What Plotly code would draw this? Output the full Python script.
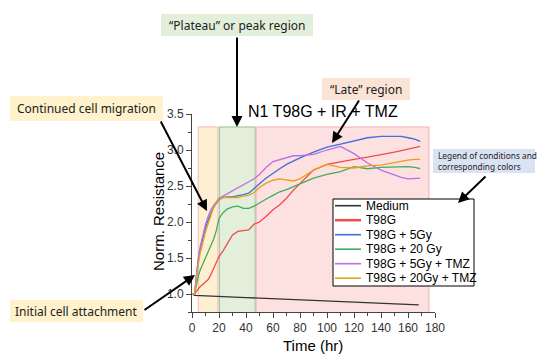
import plotly.graph_objects as go

# ---------------- data ----------------
time_hr = [0, 2, 3, 4, 5, 6, 8, 10, 12, 14, 16, 18, 20, 23, 26, 30, 34, 38, 42, 46,
           50, 55, 60, 65, 70, 75, 80, 90, 100, 110, 120, 130, 140, 150, 155, 160, 165, 169]

t98g = [1.0, 1.0, 1.03, 1.06, 1.08, 1.10, 1.13, 1.16, 1.20, 1.27, 1.36, 1.45, 1.52, 1.60, 1.69, 1.82, 1.87, 1.88, 1.89, 1.97,
        2.00, 2.08, 2.17, 2.24, 2.33, 2.44, 2.53, 2.72, 2.80, 2.84, 2.87, 2.90, 2.93, 2.97, 2.99, 3.01, 3.03, 3.05]
t98g_5gy = [1.0, 1.0, 1.20, 1.40, 1.52, 1.62, 1.78, 1.92, 2.03, 2.12, 2.20, 2.26, 2.31, 2.34, 2.35, 2.35, 2.36, 2.38, 2.40, 2.46,
            2.53, 2.61, 2.68, 2.74, 2.80, 2.85, 2.89, 2.97, 3.04, 3.08, 3.13, 3.17, 3.19, 3.19, 3.19, 3.17, 3.15, 3.12]
t98g_20gy = [1.0, 1.0, 1.10, 1.20, 1.27, 1.33, 1.42, 1.50, 1.58, 1.67, 1.76, 1.88, 2.05, 2.13, 2.18, 2.21, 2.22, 2.19, 2.19, 2.22,
             2.27, 2.32, 2.37, 2.42, 2.45, 2.49, 2.53, 2.61, 2.66, 2.70, 2.77, 2.74, 2.76, 2.77, 2.77, 2.77, 2.76, 2.74]
t98g_5gy_tmz = [1.0, 1.0, 1.22, 1.42, 1.55, 1.65, 1.82, 1.97, 2.08, 2.17, 2.23, 2.28, 2.33, 2.36, 2.39, 2.43, 2.47, 2.52, 2.56, 2.60,
                2.66, 2.76, 2.84, 2.87, 2.90, 2.92, 2.92, 2.94, 3.00, 3.05, 2.95, 2.82, 2.72, 2.65, 2.62, 2.60, 2.60, 2.61]
t98g_20gy_tmz = [1.0, 1.0, 1.15, 1.32, 1.45, 1.56, 1.72, 1.86, 1.98, 2.10, 2.20, 2.27, 2.32, 2.34, 2.34, 2.33, 2.34, 2.36, 2.37, 2.41,
                 2.48, 2.54, 2.58, 2.60, 2.58, 2.57, 2.60, 2.72, 2.80, 2.76, 2.75, 2.78, 2.79, 2.83, 2.85, 2.86, 2.87, 2.87]

medium_time = [0, 2, 40, 80, 120, 168]
medium = [1.0, 0.98, 0.95, 0.92, 0.89, 0.85]

series_names = ["Medium", "T98G", "T98G + 5Gy", "T98G + 20 Gy", "T98G + 5Gy + TMZ", "T98G + 20Gy + TMZ"]
series_colors = ["#333333", "#f24a4a", "#3f6fd8", "#3fae5a", "#b870e8", "#e6a01e"]

# phase regions (hr)
region_start = [4.6, 20.2, 47.5]
region_end = [19.2, 46.8, 175.5]
region_top = 3.32
region_fill = ["#fdf0d2", "#e3efdb", "#fde0e0"]
region_line = ["#f5b8b8", "#93c08a", "#f5b0b0"]

x_ticks = [0, 20, 40, 60, 80, 100, 120, 140, 160, 180]
y_ticks = [1.0, 1.5, 2.0, 2.5, 3.0, 3.5]

# ---------------- figure ----------------
L, R, T, B = 192, 115, 114, 50
W, H = 550, 362
PW, PH = W - L - R, H - T - B


def px(x):
    return (x - L) / PW


def py(y):
    return (H - B - y) / PH


fig = go.Figure()

all_y = [medium, t98g, t98g_5gy, t98g_20gy, t98g_5gy_tmz, t98g_20gy_tmz]
for i, name in enumerate(series_names):
    xs = medium_time if i == 0 else time_hr
    fig.add_trace(go.Scatter(x=xs, y=all_y[i], mode="lines", name=name,
                             line=dict(color=series_colors[i], width=1.3), showlegend=False))

shapes = []
for s, e, f, c in zip(region_start, region_end, region_fill, region_line):
    shapes.append(dict(type="rect", xref="x", yref="y", x0=s, x1=e, y0=0.72, y1=region_top,
                       fillcolor=f, line=dict(color=c, width=1), layer="below"))

# annotation boxes (pixel positions converted to paper)
boxes = [
    ((161, 14, 313, 36), "#e2efda", "\u201cPlateau\u201d or peak region"),
    ((322, 78, 410, 100), "#fbe3d6", "\u201cLate\u201d region"),
    ((10, 96, 163, 121), "#fff2cc", "Continued cell migration"),
    ((10, 300, 143, 322), "#fff2cc", "Initial cell attachment"),
]
annotations = []
for (x0, y0, x1, y1), col, txt in boxes:
    shapes.append(dict(type="rect", xref="paper", yref="paper", x0=px(x0), x1=px(x1),
                       y0=py(y1), y1=py(y0), fillcolor=col, line=dict(width=0), layer="above"))
    annotations.append(dict(xref="paper", yref="paper", x=px((x0 + x1) / 2), y=py((y0 + y1) / 2),
                            text=txt, showarrow=False, xanchor="center", yanchor="middle",
                            font=dict(family="Noto Sans", size=12, color="#222222")))

# legend note box
shapes.append(dict(type="rect", xref="paper", yref="paper", x0=px(433), x1=px(535),
                   y0=py(173), y1=py(149), fillcolor="#dae3f3", line=dict(width=0), layer="above"))
annotations.append(dict(xref="paper", yref="paper", x=px(436), y=py(161),
                        text="Legend of conditions and<br>corresponding colors", showarrow=False,
                        xanchor="left", yanchor="middle", align="left",
                        font=dict(family="Noto Sans", size=8.3, color="#222222")))

# arrows: (tail), (tip)
arrows = [((237, 36), (237, 127)), ((360, 99), (332, 143)), ((160, 120), (207, 211)),
          ((143, 311), (195, 275)), ((487, 175), (458, 203))]
for (tx, ty), (hx, hy) in arrows:
    annotations.append(dict(xref="paper", yref="paper", x=px(hx), y=py(hy), ax=tx - hx, ay=ty - hy,
                            text="", showarrow=True, arrowhead=2, arrowsize=1.1, arrowwidth=2,
                            arrowcolor="black", standoff=0, startstandoff=0))

# legend (drawn manually for compact row spacing)
leg_x0, leg_x1, leg_y0, leg_y1 = 333, 474, 199, 286
shapes.append(dict(type="rect", xref="paper", yref="paper", x0=px(leg_x0), x1=px(leg_x1),
                   y0=py(leg_y1), y1=py(leg_y0), fillcolor="white",
                   line=dict(color="black", width=1), layer="above"))
for i, name in enumerate(series_names):
    yc = 205.7 + 14.5 * i
    shapes.append(dict(type="line", xref="paper", yref="paper", x0=px(335), x1=px(361),
                       y0=py(yc), y1=py(yc), layer="above",
                       line=dict(color=series_colors[i], width=2.5 if i == 1 else 1.6)))
    annotations.append(dict(xref="paper", yref="paper", x=px(364), y=py(yc), text=name,
                            showarrow=False, xanchor="left", yanchor="middle",
                            font=dict(family="Arial", size=12, color="black")))

# title & axis titles
annotations.append(dict(xref="paper", yref="paper", x=px(323), y=py(112), text="N1 T98G + IR + TMZ",
                        showarrow=False, xanchor="center", yanchor="middle",
                        font=dict(family="Arial", size=16, color="black")))
annotations.append(dict(xref="paper", yref="paper", x=px(313), y=py(345), text="Time (hr)",
                        showarrow=False, xanchor="center", yanchor="middle",
                        font=dict(family="Arial", size=15, color="black")))
annotations.append(dict(xref="paper", yref="paper", x=px(158), y=py(212), text="Norm. Resistance",
                        showarrow=False, xanchor="center", yanchor="middle", textangle=-90,
                        font=dict(family="Arial", size=15, color="black")))

axis_common = dict(showline=True, linecolor="#444444", linewidth=1, ticks="outside", ticklen=5,
                   tickcolor="#444444", showgrid=False, zeroline=False,
                   tickfont=dict(family="Arial", size=12, color="#333333"))

fig.update_layout(
    width=W, height=H, margin=dict(l=L, r=R, t=T, b=B, autoexpand=False),
    paper_bgcolor="white", plot_bgcolor="white",
    xaxis=dict(range=[0, 180], tickvals=x_ticks, minor=dict(ticks="outside", ticklen=3, dtick=10,
               tickcolor="#444444"), **axis_common),
    yaxis=dict(range=[0.75, 3.5], tickvals=y_ticks, tickformat=".1f",
               minor=dict(ticks="outside", ticklen=3, dtick=0.25, tick0=0.75, tickcolor="#444444"),
               **axis_common),
    shapes=shapes, annotations=annotations, showlegend=False,
)

fig.write_html("out.html", config={"displayModeBar": False},
               post_script="document.body.style.margin='0';")
